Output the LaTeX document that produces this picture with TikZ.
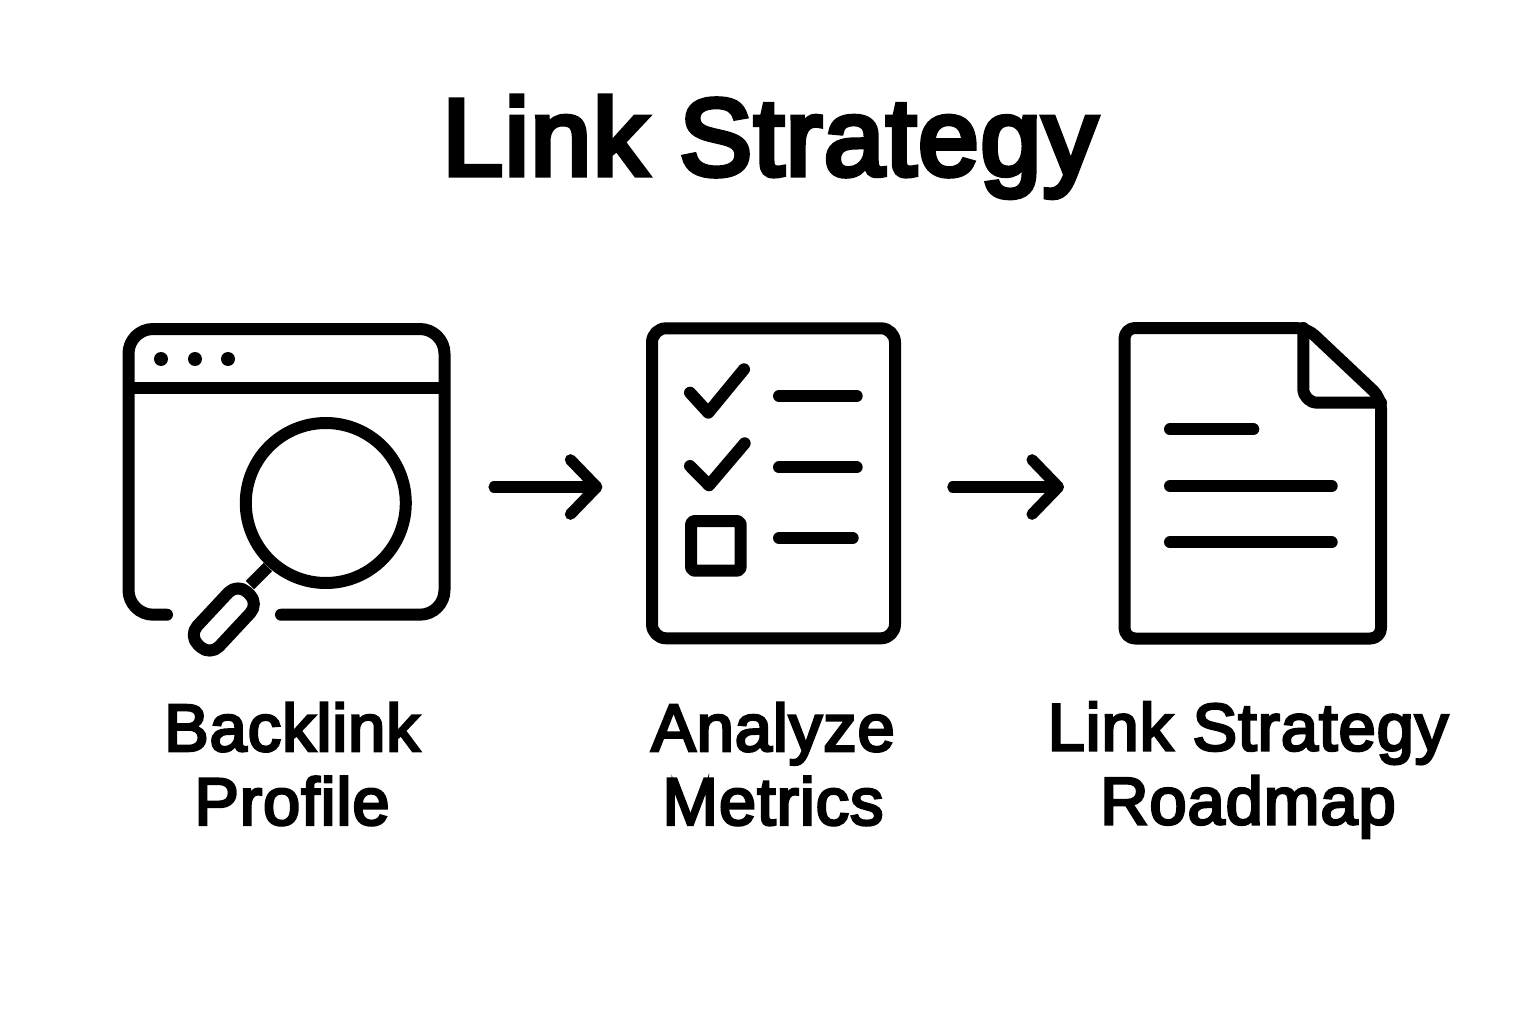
\documentclass[tikz,border=0pt]{standalone}
\usepackage{fontspec}
\setmainfont{Liberation Sans}
\usetikzlibrary{arrows.meta,fit}
\tikzset{
	iconline/.style = {draw = black, line width = 6.83pt, line cap = round, line join = round},
	iconbox/.style = {inner sep = 0pt, outer sep = 0pt},
	flowarrow/.style = {draw = black, line width = 6.4pt, line cap = round, -{Straight Barb[round, length = 15pt, width = 31pt]}},
	titletext/.style = {font = \addfontfeature{FakeBold=5,LetterSpace=1.6}\fontsize{62}{70}\selectfont, anchor = base},
	steptext/.style = {font = \addfontfeature{FakeBold=4,LetterSpace=1.5}\fontsize{38}{42}\selectfont, align = center}
}
\begin{document}
\begin{tikzpicture}[x = 0.02cm, y = -0.02cm]
	\useasboundingbox (0,0) rectangle (1536,1024);
	\node[iconbox, fit = {(122,323) (451,651)}] (backlink) {};
	\node[iconbox, fit = {(646,323) (901,651)}] (analyze) {};
	\node[iconbox, fit = {(1118,323) (1387,651)}] (roadmap) {};
	\draw[iconline, rounded corners = 14pt] (167,614.7) -- (128.5,614.7) -- (128.5,329) -- (444.5,329) -- (444.5,614.7) -- (281,614.7);
	\draw[iconline, line cap = butt] (128.5,387.5) -- (444.5,387.5);
	\foreach \dotx in {161,195,228}
		\fill (\dotx,359) circle [radius = 7];
	\draw[iconline] (325.8,503) circle [radius = 80];
	\draw[iconline, line cap = butt] (268,567) -- (250,585);
	\draw[iconline, fill = white, rounded corners = 7.5pt, shift = {(223.8,619.5)}, rotate = 47] (-36,-15) rectangle (36,15);
	\draw[iconline, rounded corners = 8pt] (652,328.3) rectangle (895,638.3);
	\draw[iconline] (690,392.7) -- (708.3,412.7) -- (744,369.3);
	\draw[iconline] (690,466) -- (709,485.3) -- (744.7,443.3);
	\draw[iconline, rounded corners = 2pt] (691,521) rectangle (740.7,570.7);
	\draw[iconline] (779,396) -- (856.7,396);
	\draw[iconline] (779,467.3) -- (856.7,467.3);
	\draw[iconline] (779,538) -- (852.7,538);
	\draw[iconline, rounded corners = 6pt] (1306.7,328) -- (1124.5,328) -- (1124.5,638.5) -- (1381,638.5) -- (1381,398) -- cycle;
	\draw[iconline, rounded corners = 8pt] (1303.3,328) -- (1303.3,402.7) -- (1381,402.7);
	\draw[iconline] (1170,429.3) -- (1253.3,429.3);
	\draw[iconline] (1170,486) -- (1331.7,486);
	\draw[iconline] (1170,542.3) -- (1331.7,542.3);
	\draw[flowarrow, shorten <= 24.5pt, shorten >= 24.8pt] (backlink) -- (analyze);
	\draw[flowarrow, shorten <= 29.5pt, shorten >= 30.7pt] (analyze) -- (roadmap);
	\node[titletext] (title) at (770,175) {Link Strategy};
	\node[steptext] (backlinktext) at (292,764) {Backlink\\Profile};
	\node[steptext] (analyzetext) at (773,764) {Analyze\\Metrics};
	\node[steptext] (roadmaptext) at (1248,770) {Link Strategy\\Roadmap};
\end{tikzpicture}
\end{document}
